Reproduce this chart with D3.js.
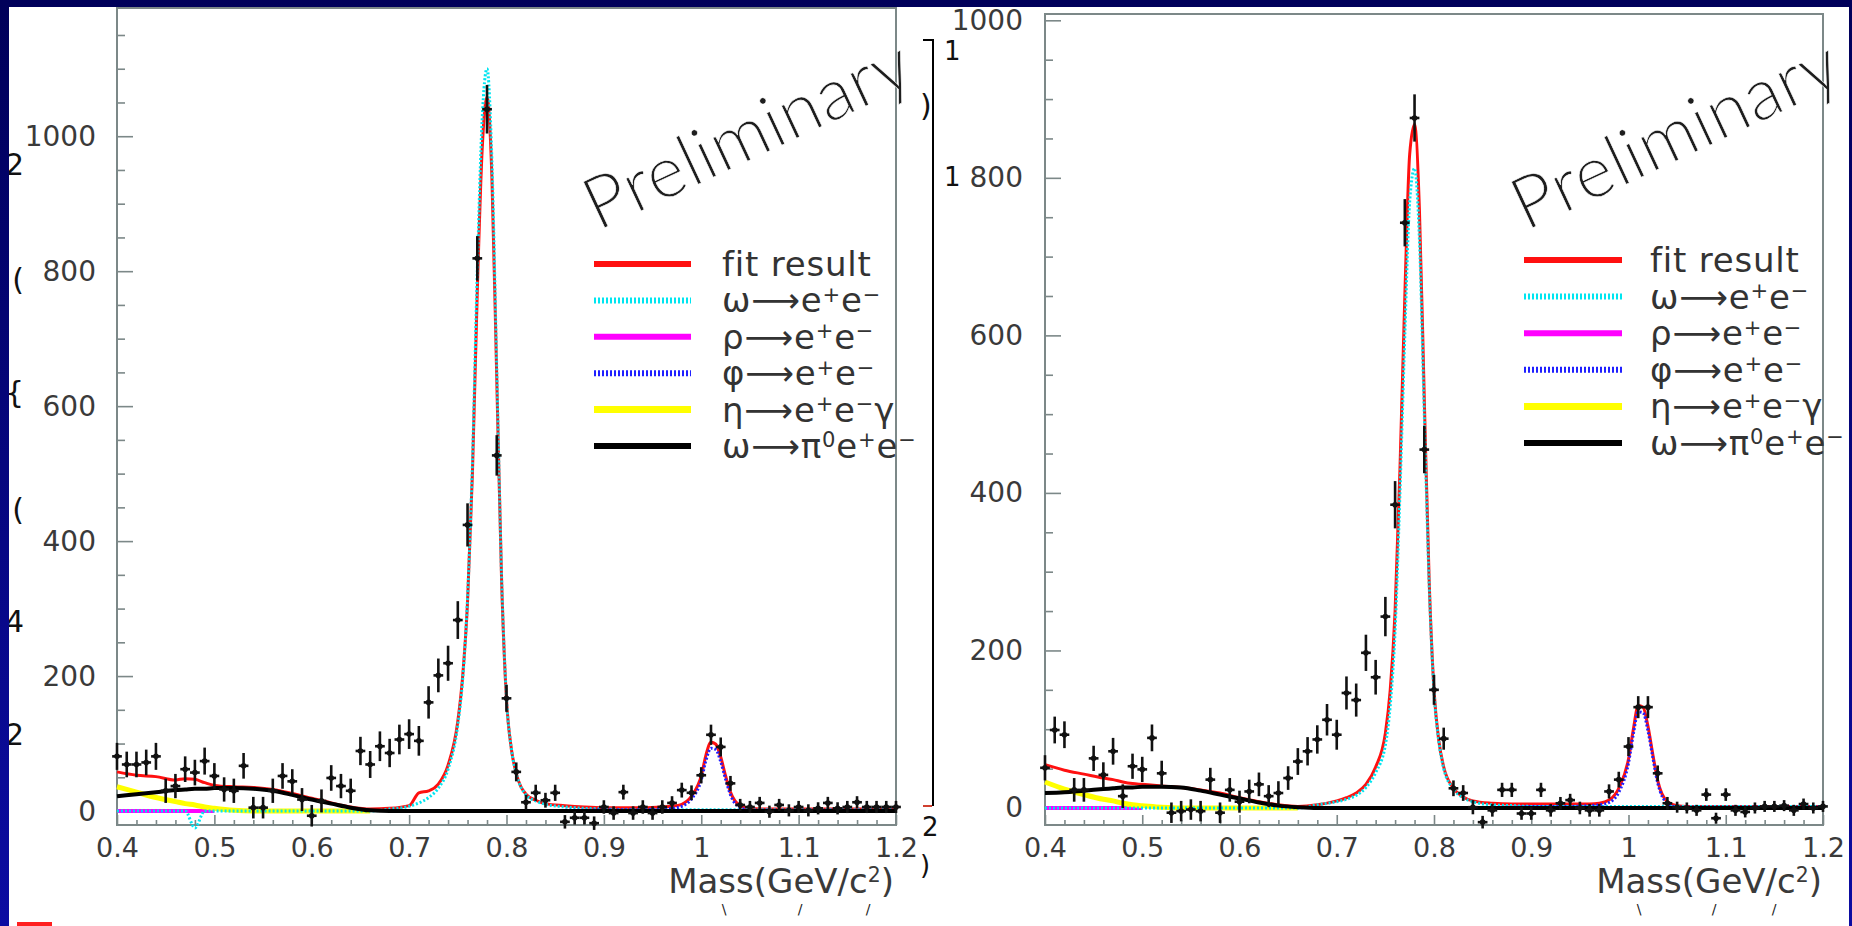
<!DOCTYPE html>
<html>
<head>
<meta charset="utf-8">
<script src="https://cdn.jsdelivr.net/npm/d3@7"></script>
<style>
  html, body { margin: 0; padding: 0; overflow: hidden; background: #00005e; }
  svg { display: block; }
</style>
</head>
<body>
<svg id="chart" width="1852" height="926"></svg>
<script>
// ---------------------------------------------------------------------------
// e+e- invariant-mass spectra (two data samples), 10 MeV bins, 0.40-1.20 GeV/c^2
// ---------------------------------------------------------------------------
const massBins = [
  0.40, 0.41, 0.42, 0.43, 0.44, 0.45, 0.46, 0.47, 0.48, 0.49,
  0.50, 0.51, 0.52, 0.53, 0.54, 0.55, 0.56, 0.57, 0.58, 0.59,
  0.60, 0.61, 0.62, 0.63, 0.64, 0.65, 0.66, 0.67, 0.68, 0.69,
  0.70, 0.71, 0.72, 0.73, 0.74, 0.75, 0.76, 0.77, 0.78, 0.79,
  0.80, 0.81, 0.82, 0.83, 0.84, 0.85, 0.86, 0.87, 0.88, 0.89,
  0.90, 0.91, 0.92, 0.93, 0.94, 0.95, 0.96, 0.97, 0.98, 0.99,
  1.00, 1.01, 1.02, 1.03, 1.04, 1.05, 1.06, 1.07, 1.08, 1.09,
  1.10, 1.11, 1.12, 1.13, 1.14, 1.15, 1.16, 1.17, 1.18, 1.19, 1.20
];

// left sample: background-subtracted counts and errors
const leftCounts = [
  81, 69, 69, 72, 81, 30, 37, 62, 57, 74,
  52, 32, 30, 67, 5, 5, 30, 52, 44, 17,
  -7, 15, 49, 37, 30, 89, 69, 96, 86, 106,
  114, 104, 161, 201, 219, 283, 424, 819, 1040, 527,
  167, 58, 13, 27, 16, 27, -16, -10, -10, -18,
  6, -3, 28, -3, 6, -3, 6, 12, 31, 27,
  53, 113, 95, 41, 9, 6, 12, -1, 9, 1,
  6, 1, 4, 12, 4, 6, 13, 6, 6, 6, 6
];
const leftErrors = [
  20, 19, 19, 19, 20, 18, 18, 19, 19, 20,
  19, 18, 18, 19, 16, 16, 18, 19, 18, 17,
  16, 17, 19, 18, 18, 21, 20, 22, 21, 22,
  22, 22, 24, 25, 26, 28, 32, 33, 36, 30,
  20, 14, 11, 12, 11, 12, 10, 10, 10, 10,
  10, 10, 11, 10, 10, 10, 10, 10, 11, 11,
  12, 15, 14, 11, 9, 9, 9, 9, 9, 9,
  9, 9, 9, 9, 9, 9, 9, 9, 9, 9, 9
];

// right sample
const rightCounts = [
  51, 99, 93, 23, 23, 63, 42, 72, 15, 53,
  49, 89, 44, -6, -4, -2, -4, 36, -6, 23,
  8, 21, 30, 15, 19, 38, 59, 72, 87, 112,
  93, 146, 137, 197, 166, 243, 385, 743, 876, 455,
  150, 88, 25, 19, 1, -18, -3, 23, 23, -7,
  -7, 23, -3, 6, 10, 0, -3, -3, 21, 36,
  78, 128, 128, 44, 6, 1, 0, -3, 17, -13,
  17, -3, -5, 0, 2, 2, 3, -3, 5, 0, 2
];
const rightErrors = [
  16, 17, 17, 15, 15, 16, 16, 17, 15, 16,
  16, 17, 16, 13, 13, 13, 13, 15, 13, 15,
  14, 15, 15, 14, 15, 15, 17, 18, 18, 20,
  19, 21, 21, 23, 22, 25, 30, 30, 30, 30,
  19, 14, 10, 10, 9, 8, 8, 9, 9, 8,
  8, 9, 8, 8, 8, 8, 8, 8, 9, 10,
  12, 14, 14, 10, 8, 7, 7, 7, 8, 7,
  8, 7, 7, 7, 7, 7, 7, 7, 7, 7, 7
];

// fit curves, sampled on a finer grid around the resonances
const fitMass = [
  0.40, 0.42, 0.44, 0.46, 0.47, 0.48, 0.49, 0.50,
  0.52, 0.54, 0.56, 0.58, 0.60, 0.62, 0.64, 0.66, 0.68, 0.70,
  0.71, 0.72, 0.73, 0.74, 0.75,
  0.755, 0.76, 0.765, 0.77, 0.775, 0.78, 0.785, 0.79, 0.795, 0.80,
  0.805, 0.81, 0.82, 0.83, 0.84,
  0.86, 0.88, 0.90, 0.92, 0.94, 0.96, 0.97, 0.98, 0.99, 1.00,
  1.005, 1.01, 1.015, 1.02, 1.025, 1.03, 1.04, 1.05, 1.06,
  1.08, 1.10, 1.12, 1.14, 1.16, 1.18, 1.20
];

const leftFitTotal = [
  58, 53, 51, 46, 48, 47, 42, 38,
  36, 35, 32, 26, 19, 12, 6, 3, 4, 8,
  27, 30, 40, 68, 133,
  200, 310, 500, 770, 980, 1058, 940, 640, 340, 165,
  92, 56, 25, 16, 11,
  8, 6, 5, 5, 5, 6, 7, 10, 22, 52,
  84, 102, 99, 80, 52, 28, 8, 4, 3,
  3, 3, 3, 3, 3, 3, 3
];
const leftOmega = [
  0, 0, 0, 0, 0, -25, 0, 0,
  0, 0, 0, 0, 0, 0, 0, 0, 3, 7,
  12, 20, 34, 62, 128,
  195, 315, 515, 800, 1025, 1100, 965, 655, 345, 167,
  92, 56, 24, 15, 10,
  6, 4, 3, 2, 2, 2, 2, 2, 2, 2,
  2, 2, 2, 2, 2, 2, 2, 2, 2,
  2, 2, 2, 2, 2, 2, 2
];
const leftRho = [
  0, 0, 0, 0, 0, 0, 0, 0,
  null, null, null, null, null, null, null, null, null, null,
  null, null, null, null, null,
  null, null, null, null, null, null, null, null, null, null,
  null, null, null, null, null,
  null, null, null, null, null, null, null, null, null, null,
  null, null, null, null, null, null, null, null, null,
  null, null, null, null, null, null, null
];
const leftPhi = [
  null, null, null, null, null, null, null, null,
  null, null, null, null, null, null, null, null, null, null,
  null, null, null, null, null,
  null, null, null, null, null, null, null, null, null, null,
  null, null, null, null, null,
  1, 1, 2, 2, 2, 3, 4, 7, 18, 46,
  76, 93, 91, 73, 47, 24, 5, 1, 1,
  1, 1, 1, 1, 1, 1, 1
];
const leftEta = [
  36, 28, 20, 14, 11, 9, 6, 4,
  1, 0, 0, 0, 0, 0, 0, 0, null, null,
  null, null, null, null, null,
  null, null, null, null, null, null, null, null, null, null,
  null, null, null, null, null,
  null, null, null, null, null, null, null, null, null, null,
  null, null, null, null, null, null, null, null, null,
  null, null, null, null, null, null, null
];
const leftDalitz = [
  22, 25, 28, 31, 32, 33, 33, 34,
  34, 33, 30, 24, 17, 11, 5, 1, 0, 0,
  0, 0, 0, 0, 0,
  0, 0, 0, 0, 0, 0, 0, 0, 0, 0,
  0, 0, 0, 0, 0,
  0, 0, 0, 0, 0, 0, 0, 0, 0, 0,
  0, 0, 0, 0, 0, 0, 0, 0, 0,
  0, 0, 0, 0, 0, 0, 0
];

const rightFitTotal = [
  55, 48, 43, 38, 36, 33, 31, 30,
  28, 26, 23, 19, 13, 8, 4, 2, 4, 9,
  13, 19, 30, 52, 95,
  150, 250, 430, 650, 830, 868, 760, 520, 290, 150,
  85, 52, 25, 14, 9,
  6, 5, 5, 5, 5, 5, 6, 10, 25, 62,
  100, 130, 128, 104, 68, 35, 8, 3, 2,
  2, 2, 2, 2, 2, 2, 2
];
const rightOmega = [
  0, 0, 0, 0, 0, 0, 0, 0,
  0, 0, 0, 0, 0, 0, 0, 0, 4, 8,
  11, 16, 26, 45, 80,
  130, 225, 400, 600, 770, 812, 722, 500, 285, 148,
  84, 50, 24, 13, 8,
  4, 3, 2, 2, 2, 2, 2, 2, 2, 2,
  2, 2, 2, 2, 2, 2, 2, 2, 2,
  2, 2, 2, 2, 2, 2, 2
];
const rightRho = leftRho.slice();
const rightPhi = [
  null, null, null, null, null, null, null, null,
  null, null, null, null, null, null, null, null, null, null,
  null, null, null, null, null,
  null, null, null, null, null, null, null, null, null, null,
  null, null, null, null, null,
  1, 1, 2, 2, 2, 3, 4, 7, 20, 57,
  94, 122, 121, 98, 64, 32, 6, 1, 1,
  1, 1, 1, 1, 1, 1, 1
];
const rightEta = [
  33, 24, 17, 11, 9, 6, 4, 3,
  1, 0, 0, 0, 0, 0, 0, 0, null, null,
  null, null, null, null, null,
  null, null, null, null, null, null, null, null, null, null,
  null, null, null, null, null,
  null, null, null, null, null, null, null, null, null, null,
  null, null, null, null, null, null, null, null, null,
  null, null, null, null, null, null, null
];
const rightDalitz = [
  19, 20, 22, 24, 25, 26, 26, 27,
  27, 26, 22, 17, 12, 7, 3, 1, 0, 0,
  0, 0, 0, 0, 0,
  0, 0, 0, 0, 0, 0, 0, 0, 0, 0,
  0, 0, 0, 0, 0,
  0, 0, 0, 0, 0, 0, 0, 0, 0, 0,
  0, 0, 0, 0, 0, 0, 0, 0, 0,
  0, 0, 0, 0, 0, 0, 0
];

// axis ticks
const xTickValues = [0.4, 0.5, 0.6, 0.7, 0.8, 0.9, 1.0, 1.1, 1.2];
const yTickValues = [0, 200, 400, 600, 800, 1000];

// legend entries (label parts: [text, "sup" | null])
const legendEntries = [
  { key: "fit",    parts: [["fit result", null]] },
  { key: "omega",  parts: [["ω", null], ["⟶", null], ["e", null], ["+", "sup"], ["e", null], ["−", "sup"]] },
  { key: "rho",    parts: [["ρ", null], ["⟶", null], ["e", null], ["+", "sup"], ["e", null], ["−", "sup"]] },
  { key: "phi",    parts: [["φ", null], ["⟶", null], ["e", null], ["+", "sup"], ["e", null], ["−", "sup"]] },
  { key: "eta",    parts: [["η", null], ["⟶", null], ["e", null], ["+", "sup"], ["e", null], ["−", "sup"], ["γ", null]] },
  { key: "dalitz", parts: [["ω", null], ["⟶", null], ["π", null], ["0", "sup"], ["e", null], ["+", "sup"], ["e", null], ["−", "sup"]] }
];

// line styles for each component
const styles = {
  fit:    { color: "#ff1010", width: 3,   dash: null,  legendWidth: 6 },
  omega:  { color: "#00e5f0", width: 3,   dash: "2,2", legendWidth: 6 },
  rho:    { color: "#ff00ff", width: 4,   dash: null,  legendWidth: 6 },
  phi:    { color: "#2020ff", width: 3,   dash: "2,2", legendWidth: 6 },
  eta:    { color: "#ffff00", width: 5,   dash: null,  legendWidth: 7 },
  dalitz: { color: "#000000", width: 4,   dash: null,  legendWidth: 6 }
};
const drawOrder = ["rho", "eta", "fit", "omega", "phi", "dalitz"];

const panels = [
  {
    xRange: [117, 896], yRange: [825, 8], yDomain: [-20.7, 1190],
    counts: leftCounts, errors: leftErrors,
    curves: { fit: leftFitTotal, omega: leftOmega, rho: leftRho, phi: leftPhi, eta: leftEta, dalitz: leftDalitz },
    labelPad: 21, legend: { x0: 594, x1: 691, tx: 722, y0: 264, dy: 36.4 },
    prelim: [598, 231], titleX: 894, marks: [724, 800, 868]
  },
  {
    xRange: [1045, 1823], yRange: [825, 14], yDomain: [-21.6, 1008],
    counts: rightCounts, errors: rightErrors,
    curves: { fit: rightFitTotal, omega: rightOmega, rho: rightRho, phi: rightPhi, eta: rightEta, dalitz: rightDalitz },
    labelPad: 22, legend: { x0: 1524, x1: 1622, tx: 1650, y0: 260, dy: 36.6 },
    prelim: [1526, 231], titleX: 1822, marks: [1639, 1714, 1774]
  }
];

// ---------------------------------------------------------------------------
const W = 1852, H = 926;
const svg = d3.select("#chart");
const defs = svg.append("defs");
const grad = defs.append("linearGradient").attr("id", "navy")
  .attr("x1", 0).attr("y1", 0).attr("x2", 0).attr("y2", 1);
grad.append("stop").attr("offset", "0%").attr("stop-color", "#00005a");
grad.append("stop").attr("offset", "100%").attr("stop-color", "#0c0ca2");

svg.append("rect").attr("width", W).attr("height", H).attr("fill", "url(#navy)");
svg.append("rect").attr("x", 9).attr("y", 7).attr("width", 1840).attr("height", H - 7).attr("fill", "#ffffff");
svg.append("rect").attr("x", 17).attr("y", 922).attr("width", 35).attr("height", 4).attr("fill", "#ff2020");

// fragments of an underlying slide peeking out at the edges
const frag = svg.append("g").attr("font-family", "DejaVu Sans, sans-serif").attr("fill", "#111");
[["2", 175], ["(", 290], ["{", 403], ["(", 520], ["4", 632], ["2", 745]].forEach(([t, yy]) => {
  frag.append("text").attr("x", 24).attr("y", yy).attr("text-anchor", "end")
    .attr("font-size", 30).text(t);
});
svg.append("rect").attr("x", 0).attr("y", 7).attr("width", 9).attr("height", H - 7).attr("fill", "url(#navy)");
frag.append("path").attr("d", "M923,40H933V806").attr("fill", "none").attr("stroke", "#000").attr("stroke-width", 2);
frag.append("path").attr("d", "M923,806H932").attr("stroke", "#d04030").attr("stroke-width", 2);
frag.append("text").attr("x", 944).attr("y", 60).attr("font-size", 26).text("1");
frag.append("text").attr("x", 944).attr("y", 186).attr("font-size", 26).text("1");
frag.append("text").attr("x", 922).attr("y", 836).attr("font-size", 26).text("2");
frag.append("text").attr("x", 920).attr("y", 116).attr("font-size", 30).text(")");
frag.append("text").attr("x", 920).attr("y", 874).attr("font-size", 26).text(")");

const fmtX = d => String(+d.toFixed(1));
const frameColor = "#7c8888";
const labelColor = "#3a3a3a";

panels.forEach(p => {
  const x = d3.scaleLinear().domain([0.4, 1.2]).range(p.xRange);
  const y = d3.scaleLinear().domain(p.yDomain).range(p.yRange);
  const g = svg.append("g");

  // frame
  g.append("rect")
    .attr("x", p.xRange[0]).attr("y", p.yRange[1])
    .attr("width", p.xRange[1] - p.xRange[0]).attr("height", p.yRange[0] - p.yRange[1])
    .attr("fill", "none").attr("stroke", frameColor).attr("stroke-width", 2);

  // x axis: minor ticks every 0.02, major every 0.1, all pointing inward
  const xMinor = d3.range(0.4, 1.2001, 0.02).filter(v => Math.abs(v * 10 - Math.round(v * 10)) > 1e-6);
  const gxMinor = g.append("g").attr("transform", `translate(0,${p.yRange[0]})`)
    .call(d3.axisBottom(x).tickValues(xMinor).tickSize(-5).tickFormat(""));
  const gx = g.append("g").attr("transform", `translate(0,${p.yRange[0]})`)
    .call(d3.axisBottom(x).tickValues(xTickValues).tickSize(-10).tickPadding(13).tickFormat(fmtX));
  [gxMinor, gx].forEach(a => {
    a.select(".domain").remove();
    a.selectAll("line").attr("stroke", frameColor).attr("stroke-width", 1.6);
  });
  gx.selectAll("text").attr("font-family", "DejaVu Sans, sans-serif").attr("font-size", 27).attr("fill", labelColor);

  // y axis: minor every 50, major every 200
  const yMinor = d3.range(0, p.yDomain[1], 50).filter(v => v % 200 !== 0);
  const gyMinor = g.append("g").attr("transform", `translate(${p.xRange[0]},0)`)
    .call(d3.axisLeft(y).tickValues(yMinor).tickSize(-8).tickFormat(""));
  const gy = g.append("g").attr("transform", `translate(${p.xRange[0]},0)`)
    .call(d3.axisLeft(y).tickValues(yTickValues).tickSize(-16).tickPadding(p.labelPad).tickFormat(d3.format("d")));
  [gyMinor, gy].forEach(a => {
    a.select(".domain").remove();
    a.selectAll("line").attr("stroke", frameColor).attr("stroke-width", 1.6);
  });
  gy.selectAll("text").attr("font-family", "DejaVu Sans, sans-serif").attr("font-size", 28).attr("fill", labelColor);

  // fit components
  const line = d3.line()
    .defined(d => d[1] !== null)
    .x(d => x(d[0])).y(d => y(d[1]))
    .curve(d3.curveMonotoneX);
  drawOrder.forEach(k => {
    const s = styles[k];
    const pts = fitMass.map((m, i) => [m, p.curves[k][i]]);
    g.append("path").attr("d", line(pts))
      .attr("fill", "none").attr("stroke", s.color).attr("stroke-width", s.width)
      .attr("stroke-dasharray", s.dash).attr("stroke-linejoin", "round");
  });

  // data points with error bars
  const pts = g.append("g").attr("stroke", "#111").attr("stroke-width", 2.6);
  const halfBin = 0.005;
  massBins.forEach((m, i) => {
    const v = p.counts[i], e = p.errors[i];
    pts.append("line").attr("x1", x(m)).attr("x2", x(m)).attr("y1", y(v - e)).attr("y2", y(v + e));
    pts.append("line").attr("x1", x(m - halfBin)).attr("x2", x(m + halfBin)).attr("y1", y(v)).attr("y2", y(v));
    pts.append("circle").attr("cx", x(m)).attr("cy", y(v)).attr("r", 2.8).attr("fill", "#111").attr("stroke", "none");
  });

  // legend
  const lg = g.append("g");
  legendEntries.forEach((entry, i) => {
    const s = styles[entry.key];
    const yy = p.legend.y0 + i * p.legend.dy;
    lg.append("line").attr("x1", p.legend.x0).attr("x2", p.legend.x1).attr("y1", yy).attr("y2", yy)
      .attr("stroke", s.color).attr("stroke-width", s.legendWidth).attr("stroke-dasharray", s.dash);
    const t = lg.append("text").attr("x", p.legend.tx).attr("y", yy + 12)
      .attr("font-family", "DejaVu Sans, sans-serif").attr("font-size", 34)
      .attr("letter-spacing", 0.8).attr("fill", "#333");
    let raised = false;
    entry.parts.forEach(([txt, kind]) => {
      const span = t.append("tspan").text(txt);
      if (kind === "sup" && !raised) { span.attr("dy", "-0.5em").attr("font-size", "62%"); raised = true; }
      else if (kind === "sup") { span.attr("font-size", "62%"); }
      else if (raised) { span.attr("dy", "0.31em"); raised = false; }
    });
  });

  // watermark (thin strokes: a white outline trims the glyphs)
  g.append("text")
    .attr("transform", `translate(${p.prelim[0]},${p.prelim[1]}) rotate(-25)`)
    .attr("font-family", "Lato, sans-serif").attr("font-weight", 300)
    .attr("font-size", 72).attr("fill", "#1e1e1e").attr("letter-spacing", 0.8)
    .attr("stroke", "#ffffff").attr("stroke-width", 0.6)
    .text("Preliminary");

  // axis title
  const title = g.append("text").attr("x", p.titleX).attr("y", 893).attr("text-anchor", "end")
    .attr("font-family", "DejaVu Sans, sans-serif").attr("font-size", 34).attr("fill", labelColor);
  title.append("tspan").text("Mass(GeV/c");
  title.append("tspan").attr("dy", "-0.55em").attr("font-size", "60%").text("2");
  title.append("tspan").attr("dy", "0.33em").text(")");

  // small stray strokes below the axis title
  ["\\", "/", "/"].forEach((c, i) => {
    g.append("text").attr("x", p.marks[i]).attr("y", 914).attr("text-anchor", "middle")
      .attr("font-family", "DejaVu Sans, sans-serif").attr("font-size", 14).attr("fill", "#222").text(c);
  });
});
</script>
</body>
</html>
